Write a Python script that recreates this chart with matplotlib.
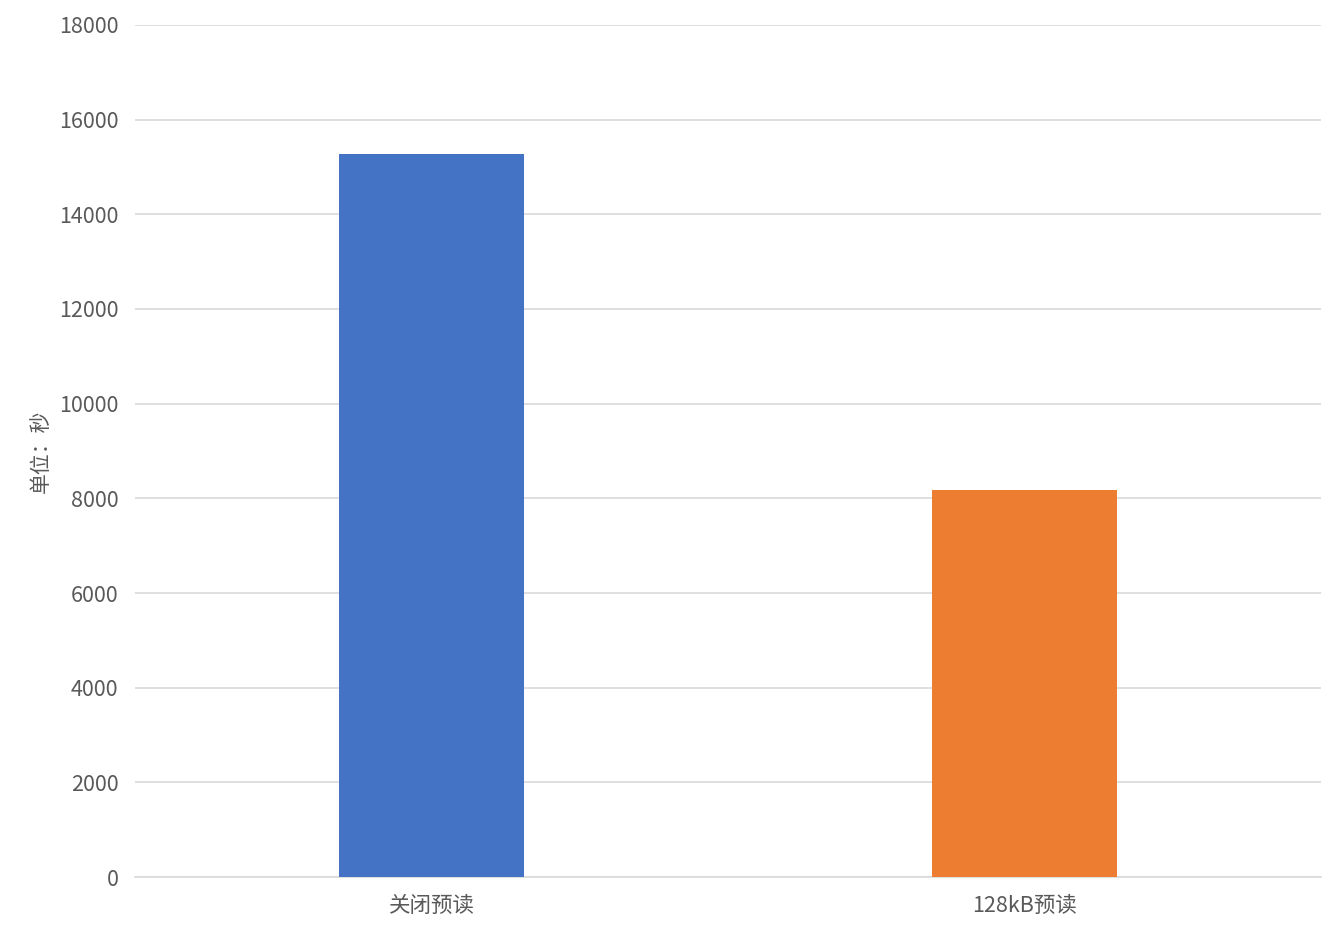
import matplotlib
matplotlib.use("Agg")
import matplotlib.pyplot as plt

plt.rcParams['font.family'] = ['Noto Sans CJK SC', 'DejaVu Sans']

categories = ["关闭预读", "128kB预读"]
values = [15280, 8180]
colors = ["#4472C4", "#ED7D31"]
yticks = [0, 2000, 4000, 6000, 8000, 10000, 12000, 14000, 16000, 18000]

fig = plt.figure(figsize=(13.43, 9.33), dpi=100)
ax = fig.add_axes([135/1343, 56/933, 1186/1343, 852/933])

x = list(range(len(categories)))
ax.bar(x, values, width=0.312, color=colors, zorder=3)
ax.set_xlim(-0.5, 1.5)
ax.set_ylim(0, 18000)
ax.set_yticks(yticks)
ax.set_xticks(x)
ax.set_xticklabels(categories)
ax.grid(axis='y', color='#D9D9D9', linewidth=1.2, zorder=0)
for s in ['top', 'right', 'left']:
    ax.spines[s].set_visible(False)
ax.spines['bottom'].set_color('#D9D9D9')
ax.spines['bottom'].set_linewidth(1.2)
ax.tick_params(axis='y', length=0, labelsize=15.5, colors='#595959', pad=12)
ax.tick_params(axis='x', length=0, labelsize=15.5, colors='#595959', pad=13)
ax.set_ylabel("单位：秒", fontsize=15, color='#595959')
ax.yaxis.set_label_coords(-0.07, 0.5)

fig.savefig("out.png", dpi=100)
